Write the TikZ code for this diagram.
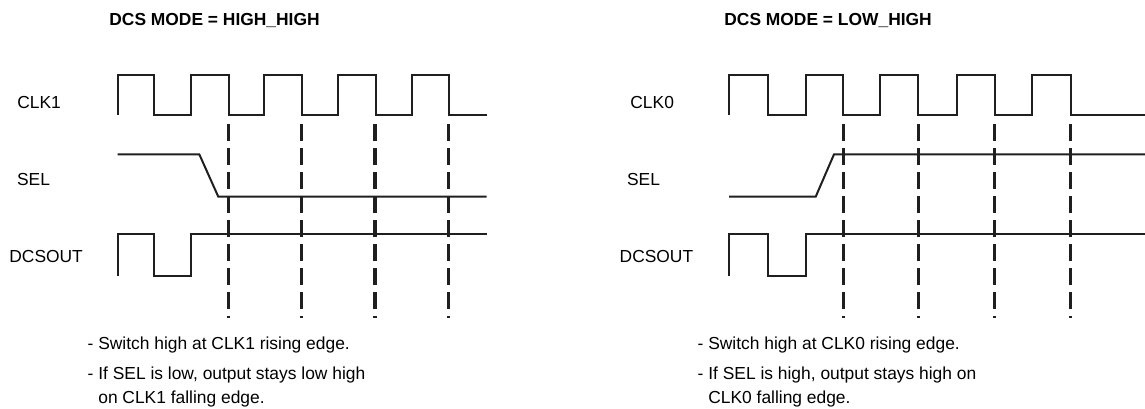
\documentclass[tikz,border=0pt]{standalone}
\usepackage{fontspec}
\setmainfont{Liberation Sans}
\usetikzlibrary{arrows.meta}

\begin{document}
\begin{tikzpicture}[x=0.5pt,y=-0.5pt,
  wave/.style={black!88, line width=1pt, line join=miter},
  cut/.style={black!88, line width=1.7pt, dash pattern=on 8.5pt off 3.5pt},
  lbl/.style={anchor=base west, inner sep=0pt, font=\fontsize{8.7}{11.8}\selectfont},
  ttl/.style={lbl, font=\fontsize{8.7}{11.8}\selectfont\bfseries}]
\useasboundingbox (0,0) rectangle (1145,408);
% left: HIGH_HIGH
\node[ttl] (titleA) at (109,25) {DCS MODE = HIGH\_HIGH};
\node[lbl] (clkA) at (17,108.3) {CLK1};
\node[lbl] (selA) at (16.7,185) {SEL};
\node[lbl] (outA) at (9,262.7) {DCSOUT};
\draw[wave] (117.7,115) |- (154,74.7) |- (190.7,115) |- (228.7,74.7) |- (264.3,115) |- (301.7,74.7) |- (338.3,115) |- (376,74.7) |- (411.7,115) |- (448.7,74.7) |- (486.7,115);
\draw[wave] (117.7,154.3) -- (199.3,154.3) -- (218.3,196.7) -- (486.7,196.7);
\draw[wave] (117.7,276) |- (154,234.3) |- (190.7,276) |- (486.7,234.3);
\foreach \x in {228.7,301.7,375,448.7}
  \draw[cut] (\x,124.3) -- (\x,318);
\node[lbl] (noteA) at (87.3,349) {- Switch high at CLK1 rising edge.};
\node[lbl, align=left] (noteB) at (87.3,403.3) {- If SEL is low, output stays low high\\\phantom{- }on CLK1 falling edge.};
% right: LOW_HIGH
\node[ttl] (titleB) at (724,25) {DCS MODE = LOW\_HIGH};
\node[lbl] (clkB) at (630,108.3) {CLK0};
\node[lbl] (selB) at (626.7,185) {SEL};
\node[lbl] (outB) at (619.3,262.7) {DCSOUT};
\draw[wave] (729,115) |- (768.3,74.7) |- (805.7,115) |- (843.3,74.7) |- (880,115) |- (918.3,74.7) |- (956.7,115) |- (994.5,74.7) |- (1032.3,115) |- (1070.7,74.7) |- (1146,115);
\draw[wave] (729,196.7) -- (815.7,196.7) -- (834,154.3) -- (1146,154.3);
\draw[wave] (729,276) |- (768.3,234.3) |- (805.7,276) |- (1146,234.3);
\foreach \x in {843.3,918.3,994.5,1070.7}
  \draw[cut] (\x,124.3) -- (\x,318);
\node[lbl] (noteC) at (697.3,349) {- Switch high at CLK0 rising edge.};
\node[lbl, align=left] (noteD) at (697.3,403.3) {- If SEL is high, output stays high on\\\phantom{- }CLK0 falling edge.};
\end{tikzpicture}
\end{document}
